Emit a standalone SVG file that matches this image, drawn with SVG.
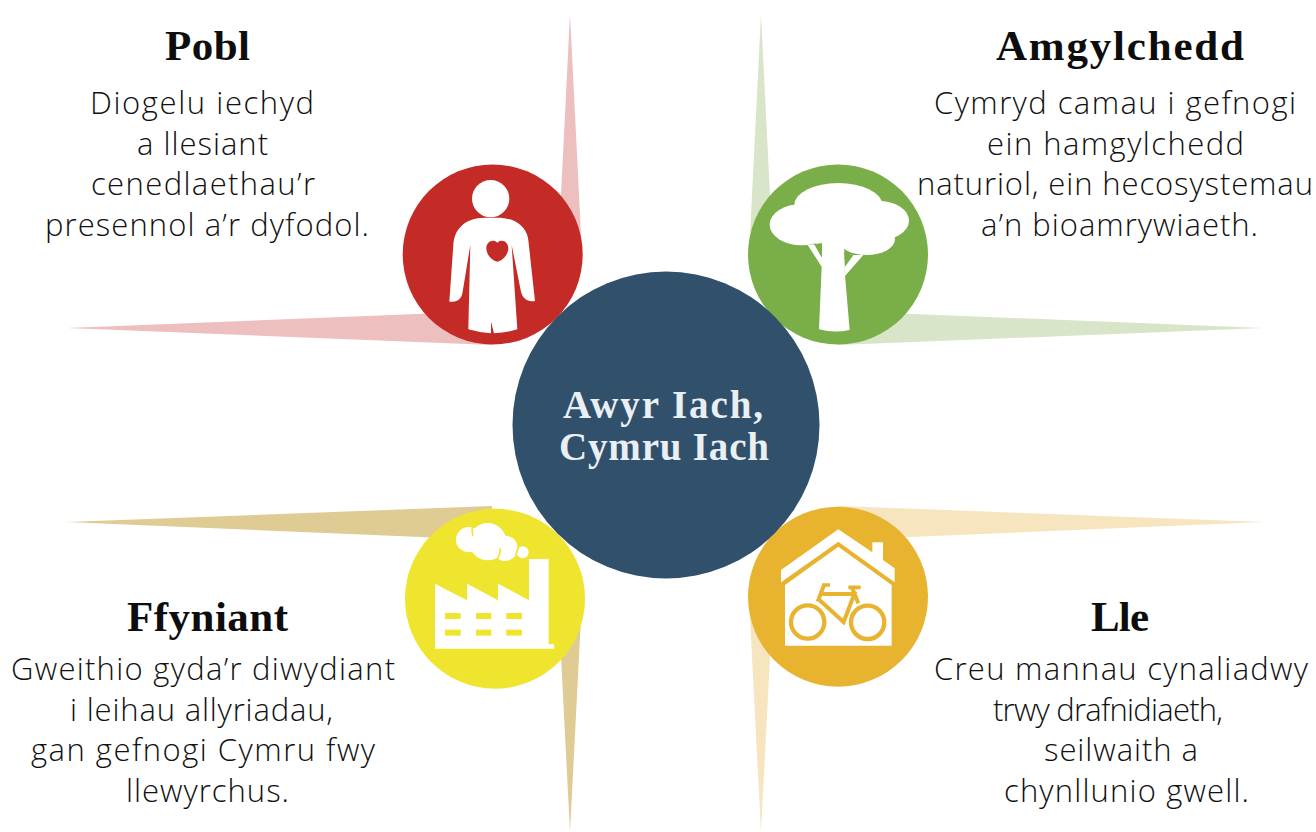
<svg xmlns="http://www.w3.org/2000/svg" width="1316" height="832" viewBox="0 0 1316 832">
<style>
.h{font-family:"Liberation Serif",serif;font-weight:700;font-size:43px;fill:#0d0d0d}
.b{font-family:"Open Sans","Lato",sans-serif;font-weight:300;font-size:31px;fill:#111}
.c{font-family:"Liberation Serif",serif;font-weight:700;font-size:39px;fill:#e9eff3}
.i{fill:#fff}
</style>
<rect width="1316" height="832" fill="#fff"/>
<g id="connectors">
<polygon fill="#eebfbf" points="570,14 558,255 582,255"/>
<polygon fill="#eebfbf" points="67,328 492,311 492,345"/>
<polygon fill="#d9e5c8" points="761,14 749,255 773,255"/>
<polygon fill="#d9e5c8" points="1263,328 838,311 838,345"/>
<polygon fill="#dfcb94" points="67,522 492,506 492,540"/>
<polygon fill="#dfcb94" points="570,832 558,598 582,598"/>
<polygon fill="#f6e5bf" points="1263,522 838,506 838,540"/>
<polygon fill="#f6e5bf" points="761,832 749,598 773,598"/>
</g>
<g id="node-pobl">
<circle cx="492.7" cy="254.5" r="90" fill="#c42a26"/>
<g transform="translate(390 150) scale(.3333)">
<circle class="i" cx="302" cy="146" r="56"/>
<path class="i" d="M285 203C255 203 228 212 212 230C198 245 192 260 190 285L178 455C200 457 215 448 218 425L241 285L235 538Q268 548 303 550L303 515L312 550Q350 548 382 538L365 285L392 420C396 445 412 457 435 453L415 270C412 250 405 238 392 226C375 210 350 203 322 203Z"/>
<path fill="#c42a26" d="M322 335C305 332 288 312 289 293C290 275 310 265 322 278C335 265 354 275 355 293C356 312 339 332 322 335Z"/>
</g>
<text class="h" x="165" y="60" textLength="85">Pobl</text>
<text class="b" x="90" y="114" textLength="224">Diogelu iechyd</text>
<text class="b" x="137" y="155" textLength="131">a llesiant</text>
<text class="b" x="91" y="195" textLength="224">cenedlaethau’r</text>
<text class="b" x="45" y="236" textLength="324">presennol a’r dyfodol.</text>
</g>
<g id="node-amgylchedd">
<circle cx="838" cy="254.5" r="90" fill="#79ae48"/>
<g transform="translate(735 150) scale(.3333)">
<ellipse class="i" cx="310" cy="165" rx="132" ry="66"/>
<ellipse class="i" cx="200" cy="224" rx="96" ry="62"/>
<ellipse class="i" cx="428" cy="212" rx="94" ry="60"/>
<ellipse class="i" cx="395" cy="268" rx="85" ry="47"/>
<ellipse class="i" cx="300" cy="240" rx="100" ry="50"/>
<path class="i" d="M262 270L327 270L330 375L344 540Q298 550 252 538L260 350L218 285L238 283L260 322Z"/>
<path class="i" d="M327 310L355 315L385 315L330 378Z"/>
<path fill="#79ae48" d="M327 307L355 316L330 350Z"/>
<path fill="#79ae48" d="M238 283L261 279L261 322Z"/>
</g>
<text class="h" x="996" y="60" textLength="248">Amgylchedd</text>
<text class="b" x="934" y="114" textLength="362">Cymryd camau i gefnogi</text>
<text class="b" x="987" y="155" textLength="257">ein hamgylchedd</text>
<text class="b" x="917" y="195" textLength="396">naturiol, ein hecosystemau</text>
<text class="b" x="981" y="236" textLength="277">a’n bioamrywiaeth.</text>
</g>
<g id="node-ffyniant">
<circle cx="495" cy="598.7" r="90" fill="#efe52f"/>
<g transform="translate(390 495) scale(.3333)">
<circle class="i" cx="398" cy="172" r="18"/>
<circle class="i" cx="345" cy="160" r="38"/>
<circle class="i" cx="236" cy="134" r="38"/>
<circle class="i" cx="293" cy="140" r="56"/>
<path fill="none" stroke="#efe52f" stroke-width="5" d="M249 92Q244 105 249 122M330 160Q332 178 322 192M385 155L378 180"/>
<polygon class="i" points="135,461 135,266 231,316 231,266 324,316 324,266 417,316 417,192 476,192 476,448 492,448 492,461"/>
<g fill="#efe52f"><rect x="165" y="354" width="47" height="18"/><rect x="258" y="354" width="46" height="18"/><rect x="349" y="354" width="47" height="18"/><rect x="165" y="404" width="47" height="18"/><rect x="258" y="404" width="46" height="18"/><rect x="349" y="404" width="47" height="18"/></g>
</g>
<text class="h" x="127" y="631" textLength="161">Ffyniant</text>
<text class="b" x="11" y="680" textLength="384">Gweithio gyda’r diwydiant</text>
<text class="b" x="70" y="721" textLength="263">i leihau allyriadau,</text>
<text class="b" x="31" y="761" textLength="344">gan gefnogi Cymru fwy</text>
<text class="b" x="126" y="802" textLength="163">llewyrchus.</text>
</g>
<g id="node-lle">
<circle cx="838" cy="596.7" r="90" fill="#e8b32f"/>
<g transform="translate(735 495) scale(.3333)">
<polygon class="i" points="310,103 412,172 412,142 444,142 444,195 479,220 479,262 310,140 138,262 138,225"/>
<polygon class="i" points="310,155 470,270 470,452 150,452 150,270"/>
<g fill="none" stroke="#e8b32f">
<circle stroke-width="13" cx="218" cy="381" r="50"/><circle stroke-width="13" cx="398" cy="382" r="50"/>
<path stroke-width="12" d="M262 297H358L326 381L250 312 M268 268L248 320 M352 280L370 325"/>
<path stroke-width="11" d="M262 270H285 M340 277H377"/>
</g>
</g>
<text class="h" x="1091" y="631" textLength="58">Lle</text>
<text class="b" x="934" y="680" textLength="374">Creu mannau cynaliadwy</text>
<text class="b" x="993" y="721" textLength="230">trwy drafnidiaeth,</text>
<text class="b" x="1044" y="761" textLength="154">seilwaith a</text>
<text class="b" x="1004" y="802" textLength="245">chynllunio gwell.</text>
</g>
<g id="node-centre">
<circle cx="666" cy="425" r="153.5" fill="#30506c"/>
<text class="c" x="563" y="418" textLength="200">Awyr Iach,</text>
<text class="c" x="559" y="460" textLength="210">Cymru Iach</text>
</g>
</svg>
